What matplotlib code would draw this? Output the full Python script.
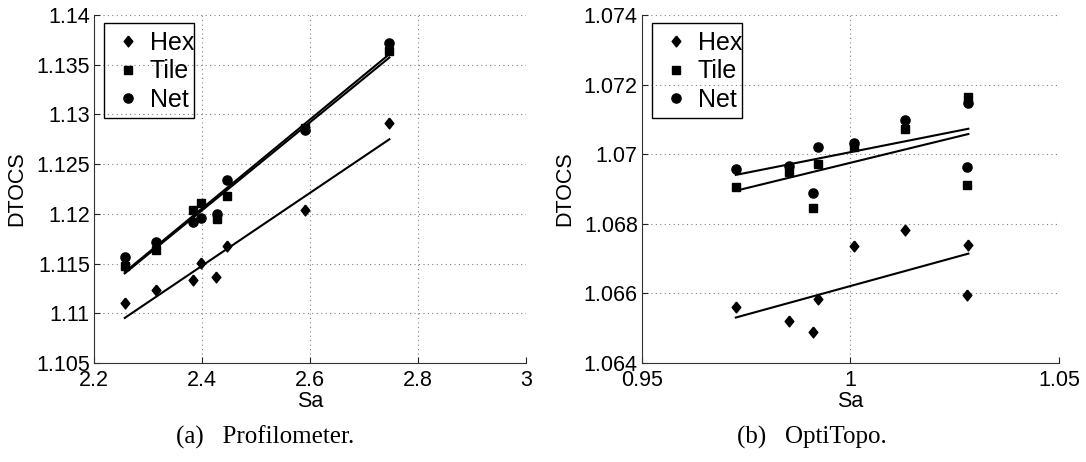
import numpy as np
import matplotlib
matplotlib.use("Agg")
import matplotlib.pyplot as plt
from matplotlib.patches import Rectangle

# ---------------- data ----------------
# (a) Profilometer
sa_prof_hex = [2.257, 2.315, 2.383, 2.399, 2.426, 2.447, 2.591, 2.747]
dt_prof_hex = [1.1110, 1.1123, 1.1133, 1.1151, 1.1136, 1.1168, 1.1204, 1.1291]
sa_prof_tile = [2.257, 2.315, 2.383, 2.399, 2.427, 2.447, 2.591, 2.747]
dt_prof_tile = [1.1148, 1.1164, 1.1204, 1.1211, 1.1195, 1.1218, 1.1286, 1.1364]
sa_prof_net = [2.257, 2.315, 2.383, 2.399, 2.427, 2.447, 2.591, 2.747]
dt_prof_net = [1.1157, 1.1172, 1.1192, 1.1196, 1.1200, 1.1234, 1.1284, 1.1372]

# (b) OptiTopo
sa_opti = [0.9725, 0.98525, 0.99109, 0.99229, 1.00093, 1.01307, 1.02827, 1.02787]
dt_opti_hex = [1.06560, 1.06522, 1.06490, 1.06583, 1.06736, 1.06782, 1.06739, 1.06595]
dt_opti_tile = [1.06905, 1.06948, 1.06844, 1.06971, 1.07022, 1.07072, 1.07163, 1.06911]
dt_opti_net = [1.06957, 1.06967, 1.06889, 1.07022, 1.07033, 1.07098, 1.07146, 1.06962]

series_names = ["Hex", "Tile", "Net"]

prof_xticks = [2.2, 2.4, 2.6, 2.8, 3.0]
prof_yticks = [1.105, 1.11, 1.115, 1.12, 1.125, 1.13, 1.135, 1.14]
opti_xticks = [0.95, 1.0, 1.05]
opti_yticks = [1.064, 1.066, 1.068, 1.07, 1.072, 1.074]

captions = ["(a)   Profilometer.", "(b)   OptiTopo."]

# ---------------- style ----------------
plt.rcParams['font.family'] = ['Liberation Sans', 'DejaVu Sans']
DIAMOND = [(0, 1), (0.8, 0), (0, -1), (-0.8, 0), (0, 1)]
markers = {"Hex": (DIAMOND, 7.8), "Tile": ("s", 5.8), "Net": ("o", 6.6)}
FS = 15.5

W, H = 1086, 462
fig = plt.figure(figsize=(W / 100, H / 100), dpi=100)


def px_axes(x0, x1, y0, y1):
    return fig.add_axes([x0 / W, 1 - y1 / H, (x1 - x0) / W, (y1 - y0) / H])


def draw_panel(ax, data, xlim, ylim, xticks, yticks):
    for name, (xs, ys) in zip(series_names, data):
        m, ms = markers[name]
        ax.plot(xs, ys, linestyle='none', marker=m, markersize=ms,
                color='black', markeredgecolor='black', label=name, zorder=3)
        k, b = np.polyfit(xs, ys, 1)
        xl = np.array([min(xs), max(xs)])
        ax.plot(xl, k * xl + b, color='black', linewidth=1.5, zorder=2)
    ax.set_xlim(*xlim)
    ax.set_ylim(*ylim)
    ax.set_xticks(xticks)
    ax.set_yticks(yticks)
    ax.set_xticklabels(['%g' % v for v in xticks])
    ax.set_yticklabels(['%g' % v for v in yticks])
    ax.grid(True, linestyle=(0, (1, 3)), color='#808080', linewidth=0.8)
    for s in ('top', 'right'):
        ax.spines[s].set_visible(False)
    for s in ('left', 'bottom'):
        ax.spines[s].set_color('#333333')
        ax.spines[s].set_linewidth(0.8)
    ax.tick_params(direction='in', length=4, width=0.8, labelsize=FS,
                   colors='#222222', labelcolor='black')
    ax.tick_params(axis='x', pad=5)
    ax.tick_params(axis='y', pad=3)
    ax.set_xlabel('Sa', fontsize=FS, labelpad=0)
    ax.set_ylabel('DTOCS', fontsize=FS, labelpad=6)
    axw = ax.get_position().width * W
    axh = ax.get_position().height * H
    ax.legend(loc='upper left', bbox_to_anchor=(13 / axw, 1 - 16 / axh),
              borderaxespad=0, fontsize=18, frameon=False,
              borderpad=0, handlelength=1.7, handletextpad=0.0,
              labelspacing=0.18)
    # legend frame
    ax.add_patch(Rectangle((10 / axw, 1 - 103 / axh), 90 / axw, 95 / axh,
                           transform=ax.transAxes, fill=False,
                           edgecolor='black', linewidth=1.0, zorder=5,
                           clip_on=False))


ax1 = px_axes(94, 526, 15, 363)
draw_panel(ax1,
           [(sa_prof_hex, dt_prof_hex), (sa_prof_tile, dt_prof_tile),
            (sa_prof_net, dt_prof_net)],
           (2.2, 3.0), (1.105, 1.14), prof_xticks, prof_yticks)

ax2 = px_axes(642, 1059, 15, 363)
draw_panel(ax2,
           [(sa_opti, dt_opti_hex), (sa_opti, dt_opti_tile),
            (sa_opti, dt_opti_net)],
           (0.95, 1.05), (1.064, 1.074), opti_xticks, opti_yticks)

fig.text(265 / W, 1 - 437 / H, captions[0], ha='center', va='center',
         fontsize=18, family=['Liberation Serif', 'DejaVu Serif'])
fig.text(812 / W, 1 - 437 / H, captions[1], ha='center', va='center',
         fontsize=18, family=['Liberation Serif', 'DejaVu Serif'])

fig.savefig('out.png', dpi=100)
